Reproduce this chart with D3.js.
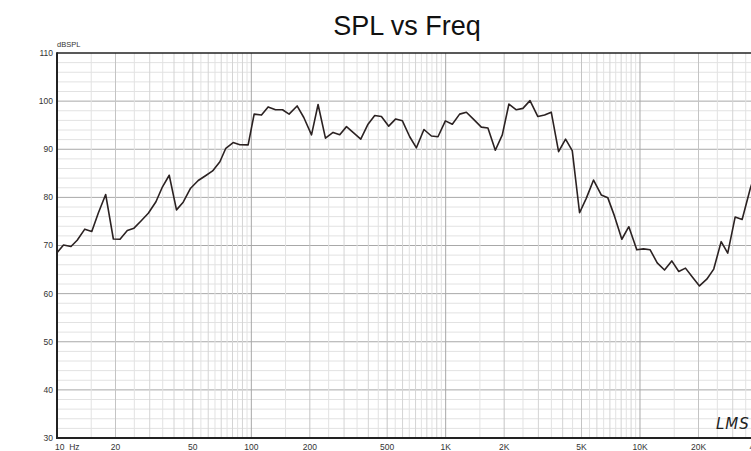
<!DOCTYPE html>
<html lang="en">

<head>
    <meta charset="UTF-8">
    <title>SPL vs Freq</title>
    <style>
        body {
            margin: 0;
            background: #fff;
        }

        svg#chart {
            display: block;
        }
    </style>
</head>

<body>
    <script src="https://d3js.org/d3.v7.min.js"></script>
    <script>
        const freqs = [10, 10.8, 11.8, 12.7, 13.9, 15.1, 16.3, 17.8, 19.5, 21.1, 23.0, 24.9, 26.9, 29.5, 32.3, 34.9,
            37.8, 41.2, 44.6, 48.7, 53.3, 58.1, 63.2, 68.9, 73.9, 80.6, 87.3, 96.3, 103.4, 112.8, 122, 133.2, 144.7,
            156.4, 172, 186.2, 204, 220.5, 240.7, 263.4, 285.1, 308.8, 333.8, 365.6, 398.6, 431.5, 467.1, 509.3,
            553.4, 599, 653.1, 707, 773.2, 844.4, 913, 996.5, 1082, 1180, 1278, 1393, 1526, 1650, 1801, 1956, 2116,
            2310, 2497, 2716, 2982, 3228, 3494, 3811, 4140, 4481, 4887, 5290, 5768, 6318, 6831, 7394, 8062, 8761,
            9627, 10420, 11280, 12260, 13370, 14570, 15830, 17140, 18550, 20230, 22060, 23960, 26160, 28280, 30870,
            33540, 36980, 40000]
        const spl = [68.5, 70.1, 69.8, 71.1, 73.4, 72.9, 76.7, 80.6, 71.35, 71.3, 73.1, 73.6, 75.0, 76.7, 79.1, 82.2,
            84.6, 77.4, 79.0, 81.9, 83.5, 84.5, 85.5, 87.4, 90.2, 91.4, 90.95, 90.9, 97.3, 97.1, 98.8, 98.2, 98.2,
            97.3, 99.0, 96.6, 93.0, 99.3, 92.3, 93.5, 93.0, 94.7, 93.5, 92.1, 95.2, 97.0, 96.8, 94.8, 96.3, 95.9,
            92.6, 90.3, 94.1, 92.75, 92.6, 95.9, 95.2, 97.3, 97.7, 96.2, 94.6, 94.4, 89.8, 93.0, 99.4, 98.2, 98.5,
            100.1, 96.8, 97.1, 97.7, 89.5, 92.1, 89.7, 76.8, 79.8, 83.6, 80.5, 79.9, 76.1, 71.3, 73.9, 69.1, 69.3,
            69.1, 66.4, 64.9, 66.8, 64.6, 65.3, 63.5, 61.6, 63.0, 65.1, 70.8, 68.4, 75.9, 75.4, 81.9, 86.0]

        const xTickValues = [10, 20, 50, 100, 200, 500, 1000, 2000, 5000, 10000, 20000, 40000]
        const xTickLabels = ['10  Hz', '20', '50', '100', '200', '500', '1K', '2K', '5K', '10K', '20K', '40K']
        const yTickValues = [30, 40, 50, 60, 70, 80, 90, 100, 110]

        const width = 751
        const height = 451
        const plot = { left: 57, top: 53, right: 757, bottom: 438 }

        const svg = d3.select('body')
            .append('svg')
            .attr('id', 'chart')
            .attr('width', width)
            .attr('height', height)
            .style('font-family', '"Liberation Sans", Arial, sans-serif')

        const x = d3.scaleLog().domain([10, 40000]).range([plot.left, plot.right])
        const y = d3.scaleLinear().domain([30, 110]).range([plot.bottom, plot.top])

        svg.append('defs').append('clipPath').attr('id', 'plot-area')
            .append('rect')
            .attr('x', plot.left).attr('y', plot.top)
            .attr('width', plot.right - plot.left).attr('height', plot.bottom - plot.top)

        // horizontal grid, 2 dB minor / 10 dB major
        const hGrid = svg.append('g').attr('class', 'h-grid')
        for (let v = 32; v < 110; v += 2) {
            if (v % 10 === 0) continue
            hGrid.append('line')
                .attr('x1', plot.left).attr('x2', plot.right)
                .attr('y1', y(v)).attr('y2', y(v))
                .attr('stroke', '#e2e2e2').attr('stroke-width', 1)
        }

        // vertical grid, steps of 0.5 per decade
        const vGrid = svg.append('g').attr('class', 'v-grid')
        for (let dec = 10; dec < 40000; dec *= 10) {
            for (let m = 1; m < 10; m += 0.5) {
                const f = dec * m
                if (f <= 10 || f >= 40000) continue
                let color = '#e2e2e2'
                if (m === 1) color = '#a8a8a8'
                else if (m === 2 || m === 5) color = '#c4c4c4'
                else if (Number.isInteger(m)) color = '#d4d4d4'
                vGrid.append('line')
                    .attr('x1', x(f)).attr('x2', x(f))
                    .attr('y1', plot.top).attr('y2', plot.bottom)
                    .attr('stroke', color).attr('stroke-width', 1)
            }
        }

        yTickValues.slice(1, -1).forEach(v => {
            hGrid.append('line')
                .attr('x1', plot.left).attr('x2', plot.right)
                .attr('y1', y(v)).attr('y2', y(v))
                .attr('stroke', '#a8a8a8').attr('stroke-width', 1)
        })

        // frame
        svg.append('line')
            .attr('x1', plot.left).attr('x2', plot.right).attr('y1', plot.top).attr('y2', plot.top)
            .attr('stroke', '#222').attr('stroke-width', 1.5)
        svg.append('line')
            .attr('x1', plot.left).attr('x2', plot.left).attr('y1', plot.top - 0.75).attr('y2', plot.bottom + 1)
            .attr('stroke', '#222').attr('stroke-width', 2)
        svg.append('line')
            .attr('x1', plot.left - 1).attr('x2', plot.right).attr('y1', plot.bottom).attr('y2', plot.bottom)
            .attr('stroke', '#222').attr('stroke-width', 2)

        // curve
        const data = freqs.map((f, i) => ({ f, v: spl[i] }))
        const line = d3.line()
            .x(d => x(d.f))
            .y(d => y(d.v))

        svg.append('path')
            .datum(data)
            .attr('clip-path', 'url(#plot-area)')
            .attr('fill', 'none')
            .attr('stroke', '#2b2222')
            .attr('stroke-width', 1.6)
            .attr('stroke-linejoin', 'round')
            .attr('d', line)

        // y labels
        svg.append('g').selectAll('text')
            .data(yTickValues)
            .join('text')
            .attr('x', 53)
            .attr('y', d => y(d))
            .attr('dy', '0.35em')
            .attr('text-anchor', 'end')
            .attr('font-size', 8.5)
            .attr('fill', '#333')
            .text(d => d)

        svg.append('text')
            .attr('x', 57).attr('y', 47)
            .attr('font-size', 7.5)
            .attr('fill', '#333')
            .text('dBSPL')

        // x labels
        svg.append('g').selectAll('text')
            .data(xTickValues)
            .join('text')
            .attr('x', (d, i) => i === 0 ? 55 : x(d))
            .attr('y', 450)
            .attr('text-anchor', (d, i) => i === 0 ? 'start' : 'middle')
            .attr('font-size', 8.5)
            .attr('fill', '#333')
            .style('white-space', 'pre')
            .text((d, i) => xTickLabels[i])

        // title
        svg.append('text')
            .attr('x', (plot.left + plot.right) / 2)
            .attr('y', 35)
            .attr('text-anchor', 'middle')
            .attr('font-size', 27)
            .attr('fill', '#111')
            .text('SPL vs Freq')

        // logo
        svg.append('text')
            .attr('x', 716).attr('y', 429)
            .attr('font-size', 15)
            .attr('font-style', 'italic')
            .attr('font-family', '"DejaVu Sans", sans-serif')
            .attr('font-weight', 300)
            .attr('fill', '#222')
            .attr('letter-spacing', 1)
            .text('LMS')
    </script>
</body>

</html>
